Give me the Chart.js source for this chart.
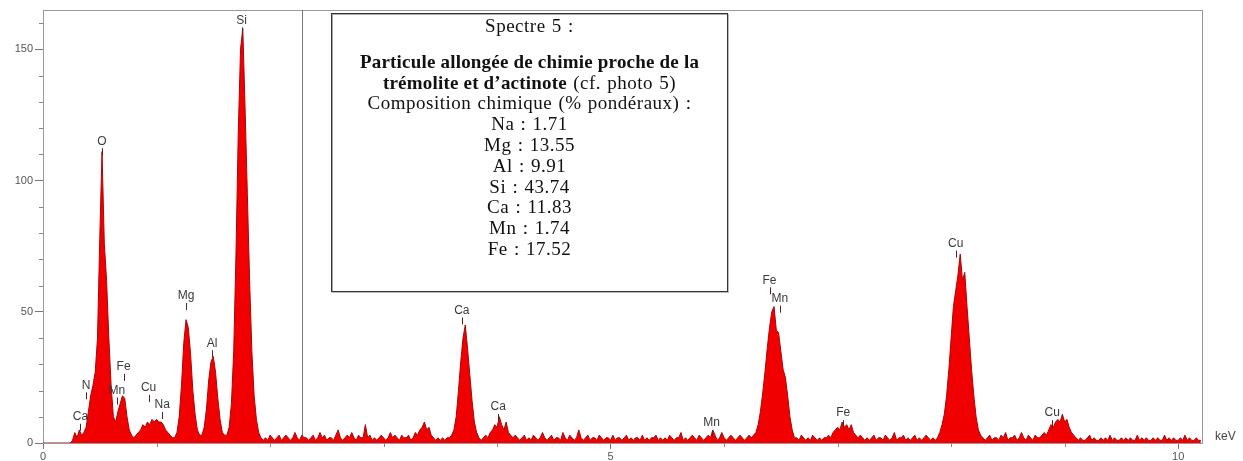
<!DOCTYPE html>
<html>
<head>
<meta charset="utf-8">
<title>Spectre 5</title>
<script src="https://cdn.jsdelivr.net/npm/chart.js@4.4.1/dist/chart.umd.min.js"></script>
<style>
    body { margin: 0; background: #fff; }
    #wrap { position: relative; width: 1243px; height: 461px; }
    #note {
        position: absolute; left: 331px; top: 13px; width: 397px; height: 279px;
        box-sizing: border-box; background: #fff;
        border: 1px solid #333; box-shadow: inset 1px 1px 0 #aaa, 1px 1px 0 #bbb;
        font-family: "Liberation Serif", "Times New Roman", serif;
        font-size: 19px; line-height: 20.8px; text-align: center; color: #111;
        letter-spacing: 0.5px; word-spacing: 1px;
        padding-top: 2px; white-space: nowrap;
    }
    #note .head { margin-bottom: 15px; }
    #note b { letter-spacing: 0.2px; word-spacing: 0; }
</style>
</head>
<body>
<div id="wrap">
    <canvas id="spectrum" width="1243" height="461"></canvas>
    <div id="note"></div>
</div>
<script>
// EDS spectrum, one count value per 0.02 keV channel starting at 0 keV
const channelWidth = 0.02;
const counts = [
    0, 0, 0, 0, 0, 0, 0, 0, 0, 0,          // 0.00
    0, 0, 0, 1, 4, 2, 5, 3, 4, 6,          // 0.20
    12, 18, 22, 27, 40, 78, 111, 76, 62, 40, // 0.40
    22, 10, 8, 12, 15, 18, 17, 10, 5, 3,   // 0.60
    2, 3, 4, 5, 7, 6, 8, 7, 9, 8,          // 0.80
    9, 8, 8, 7, 5, 4, 3, 2, 2, 4,          // 1.00
    10, 22, 38, 47, 44, 34, 20, 11, 5, 3,  // 1.20
    3, 6, 13, 24, 31, 33, 27, 17, 9, 4,    // 1.40
    3, 3, 6, 15, 35, 72, 118, 150, 158, 128, // 1.60
    95, 62, 35, 18, 9, 4, 2, 1, 2, 1,      // 1.80
    3, 2, 1, 2, 3, 1, 2, 3, 2, 1,          // 2.00
    2, 4, 2, 1, 3, 2, 2, 1, 2, 3,          // 2.20
    1, 2, 4, 2, 3, 1, 2, 2, 1, 3,          // 2.40
    5, 2, 1, 2, 3, 2, 4, 2, 1, 3,          // 2.60
    2, 2, 7, 2, 3, 1, 2, 1, 2, 3,          // 2.80
    2, 1, 2, 4, 2, 3, 2, 1, 3, 2,          // 3.00
    2, 3, 1, 2, 4, 3, 5, 6, 8, 5,          // 3.20
    6, 3, 2, 1, 2, 1, 2, 1, 2, 2,          // 3.40
    3, 5, 10, 20, 31, 40, 45, 36, 26, 16,  // 3.60
    8, 4, 2, 1, 2, 3, 2, 4, 5, 7,          // 3.80
    6, 10, 7, 5, 8, 4, 3, 2, 3, 2,         // 4.00
    1, 2, 3, 1, 2, 1, 3, 2, 1, 2,          // 4.20
    4, 2, 1, 2, 3, 1, 2, 2, 1, 4,          // 4.40
    2, 1, 3, 2, 1, 2, 5, 2, 1, 2,          // 4.60
    3, 1, 2, 2, 1, 3, 2, 1, 2, 2,          // 4.80
    1, 3, 1, 2, 2, 1, 2, 3, 1, 2,          // 5.00
    1, 2, 2, 1, 3, 1, 2, 1, 2, 2,          // 5.20
    3, 1, 2, 1, 2, 1, 3, 2, 1, 2,          // 5.40
    2, 4, 1, 2, 1, 2, 3, 2, 1, 3,          // 5.60
    2, 1, 2, 3, 2, 5, 3, 1, 2, 4,          // 5.80
    2, 1, 2, 3, 2, 1, 2, 3, 2, 1,          // 6.00
    2, 3, 2, 3, 4, 7, 12, 19, 27, 36,      // 6.20
    44, 50, 52, 43, 42, 35, 28, 25, 18, 10, // 6.40
    5, 2, 2, 1, 3, 2, 1, 2, 1, 3,          // 6.60
    2, 1, 2, 1, 2, 2, 3, 2, 4, 5,          // 6.80
    6, 5, 8, 6, 7, 5, 7, 4, 3, 2,          // 7.00
    3, 2, 1, 2, 1, 2, 3, 1, 2, 2,          // 7.20
    1, 3, 2, 1, 2, 4, 1, 2, 2, 3,          // 7.40
    1, 2, 1, 2, 3, 1, 2, 1, 2, 3,          // 7.60
    2, 1, 2, 1, 2, 4, 7, 11, 18, 28,       // 7.80
    40, 52, 58, 64, 72, 62, 65, 52, 40, 28, // 8.00
    18, 10, 5, 3, 2, 1, 2, 3, 1, 2,        // 8.20
    2, 1, 3, 2, 4, 1, 2, 2, 3, 1,          // 8.40
    2, 4, 2, 1, 3, 2, 1, 3, 2, 2,          // 8.60
    3, 4, 3, 5, 7, 6, 8, 9, 8, 11,         // 8.80
    8, 9, 6, 4, 3, 2, 1, 2, 1, 1,          // 9.00
    2, 3, 1, 2, 1, 1, 2, 1, 2, 1,          // 9.20
    3, 1, 2, 1, 1, 2, 1, 2, 1, 2,          // 9.40
    1, 1, 3, 1, 2, 1, 2, 1, 1, 2,          // 9.60
    1, 2, 1, 1, 3, 1, 2, 1, 2, 1,          // 9.80
    1, 2, 1, 3, 1, 2, 1, 1, 2, 1,          // 10.00
    1
];

// peak identification labels (energy in keV, label anchor in counts)
const peakNames  = ['Ca', 'N', 'O', 'Mn', 'Fe', 'Cu', 'Na', 'Mg', 'Al', 'Si', 'Ca', 'Ca', 'Mn', 'Fe', 'Mn', 'Fe', 'Cu', 'Cu'];
const peakKeV    = [0.33, 0.38, 0.52, 0.65, 0.71, 0.93, 1.05, 1.26, 1.49, 1.75, 3.69, 4.01, 5.89, 6.40, 6.49, 7.05, 8.04, 8.89];
const peakLabelY = [10, 22, 115, 20, 29, 21, 14.5, 56, 38, 161, 50.5, 13.7, 7.6, 62, 55, 11.4, 76, 11.4];

const xMajorTicks = [0, 5, 10];
const xMinorTicks = [1, 2, 3, 4, 6, 7, 8, 9];
const yMajorTicks = [0, 50, 100, 150];
const yMinorTicks = [10, 20, 30, 40, 60, 70, 80, 90, 110, 120, 130, 140, 160];
const cursorKeV = 2.28;

const compositionElements = ['Na', 'Mg', 'Al', 'Si', 'Ca', 'Mn', 'Fe'];
const compositionWeights  = ['1.71', '13.55', '9.91', '43.74', '11.83', '1.74', '17.52'];

// ----------------- Text box -----------------
const note = document.getElementById('note');
note.innerHTML = '<div class="head">Spectre 5 :</div><b>Particule allongée de chimie proche de la<br>trémolite et d’actinote</b> (cf. photo 5)<br>Composition chimique (% pondéraux) :<br>'
    + compositionElements.map((el, i) => el + ' : ' + compositionWeights[i]).join('<br>');

// ----------------- Extras drawn on the canvas -----------------
const spectrumExtras = {
    id: 'spectrumExtras',
    beforeDatasetsDraw(chart) {
        const { ctx, chartArea: a, scales: { x, y } } = chart;
        ctx.save();
        // frame of the plot
        ctx.strokeStyle = '#9a9a9a';
        ctx.lineWidth = 1;
        ctx.strokeRect(a.left + 0.5, a.top + 0.5, a.right - a.left, a.bottom - a.top);
        // cursor line
        const cx = Math.round(x.getPixelForValue(cursorKeV)) + 0.5;
        ctx.strokeStyle = '#777';
        ctx.beginPath();
        ctx.moveTo(cx, a.top);
        ctx.lineTo(cx, a.bottom);
        ctx.stroke();
        // minor ticks
        ctx.strokeStyle = '#888';
        ctx.beginPath();
        yMinorTicks.forEach(v => {
            const py = Math.round(y.getPixelForValue(v)) + 0.5;
            ctx.moveTo(a.left - 4, py);
            ctx.lineTo(a.left, py);
        });
        xMinorTicks.forEach(v => {
            const px = Math.round(x.getPixelForValue(v)) + 0.5;
            ctx.moveTo(px, a.bottom);
            ctx.lineTo(px, a.bottom + 4);
        });
        ctx.stroke();
        ctx.restore();
    },
    afterDatasetsDraw(chart) {
        const { ctx, scales: { x, y } } = chart;
        ctx.save();
        ctx.font = '12px "Liberation Sans", Arial, sans-serif';
        ctx.textAlign = 'center';
        ctx.textBaseline = 'middle';
        peakNames.forEach((name, i) => {
            const px = x.getPixelForValue(peakKeV[i]);
            const py = y.getPixelForValue(peakLabelY[i]);
            ctx.fillStyle = '#3a3a3a';
            ctx.fillText(name, px, py);
            ctx.strokeStyle = '#5a2020';
            ctx.beginPath();
            ctx.moveTo(Math.round(px) + 0.5, py + 7);
            ctx.lineTo(Math.round(px) + 0.5, py + 14);
            ctx.stroke();
        });
        // unit label
        ctx.fillStyle = '#444';
        ctx.textAlign = 'left';
        ctx.fillText('keV', chart.chartArea.right + 13, chart.chartArea.bottom - 6);
        ctx.restore();
    }
};

// ----------------- Chart -----------------
const ctx = document.getElementById('spectrum');
new Chart(ctx.getContext('2d'), {
    type: 'line',
    data: {
        datasets: [{
            data: counts.map((c, i) => ({ x: i * channelWidth, y: c })),
            fill: 'origin',
            backgroundColor: '#f00000',
            borderColor: '#b30000',
            borderWidth: 1,
            pointRadius: 0,
            tension: 0
        }]
    },
    options: {
        responsive: false,
        devicePixelRatio: 1,
        animation: false,
        layout: { padding: { top: 10, right: 41, left: 0, bottom: 0 } },
        plugins: { legend: { display: false }, tooltip: { enabled: false } },
        scales: {
            x: {
                type: 'linear',
                min: 0,
                max: 10.21,
                afterBuildTicks: s => { s.ticks = xMajorTicks.map(v => ({ value: v })); },
                afterFit: s => { s.height = 18; },
                grid: { drawOnChartArea: false, tickLength: 6, tickColor: '#777' },
                border: { color: '#8a8a8a' },
                ticks: {
                    maxRotation: 0,
                    padding: 1,
                    color: '#555',
                    font: { family: '"Liberation Sans", Arial, sans-serif', size: 11 }
                }
            },
            y: {
                min: 0,
                max: 165,
                afterBuildTicks: s => { s.ticks = yMajorTicks.map(v => ({ value: v })); },
                afterFit: s => { s.width = 43; },
                grid: { drawOnChartArea: false, tickLength: 8, tickColor: '#777' },
                border: { color: '#8a8a8a' },
                ticks: {
                    padding: 2,
                    color: '#555',
                    font: { family: '"Liberation Sans", Arial, sans-serif', size: 11 }
                }
            }
        }
    },
    plugins: [spectrumExtras]
});
</script>
</body>
</html>
